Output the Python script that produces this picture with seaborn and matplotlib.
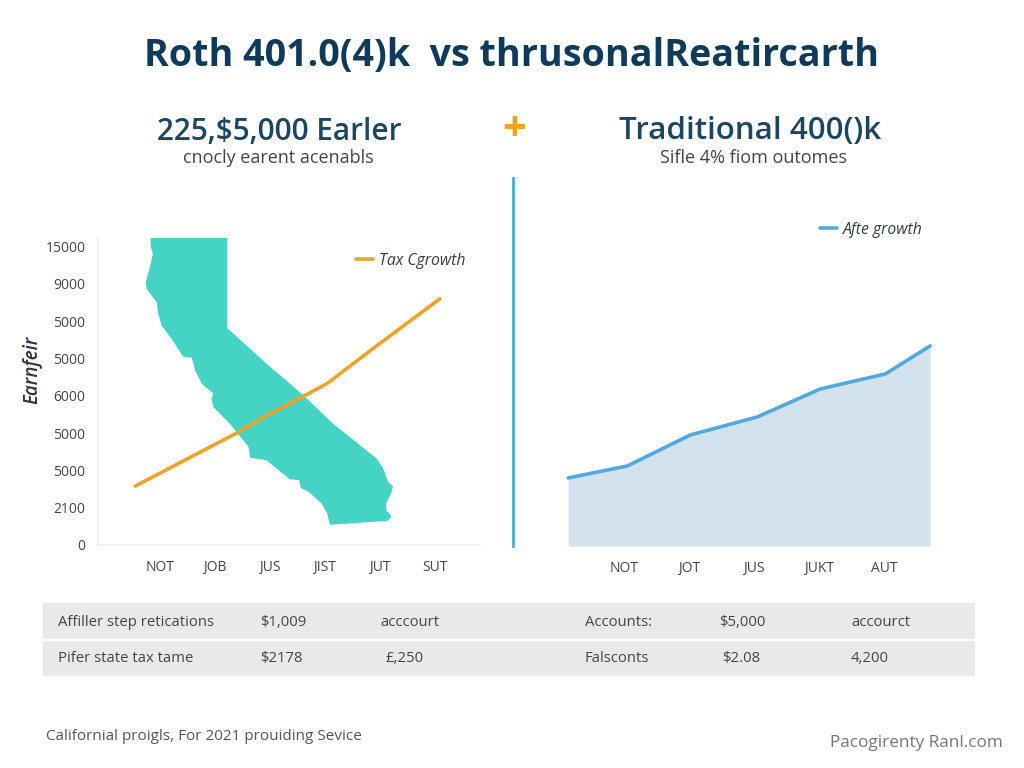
import matplotlib
matplotlib.use("Agg")
import matplotlib.pyplot as plt
from matplotlib.patches import Rectangle
import pandas as pd
import seaborn as sns

# Dados
left_months = ["NOT", "JOB", "JUS", "JIST", "JUT", "SUT"]
right_months = ["NOT", "JOT", "JUS", "JUKT", "AUT"]
y_tick_labels = ["0", "2100", "5000", "5000", "6000", "5000", "5000", "9000", "15000"]

tax_x = [-0.45, 1.42, 1.95, 2.6, 3.04, 3.95, 5.09]
tax_y = [1.58, 3.02, 3.48, 3.98, 4.33, 5.35, 6.6]

after_x = [-0.86, 0.05, 1.02, 2.05, 3.02, 4.02, 4.71]
after_y = [1.82, 2.14, 2.97, 3.45, 4.2, 4.6, 5.35]

state_x = [-0.17, 1.22, 1.22, 1.94, 2.61, 3.15, 3.94, 4.06, 4.15, 4.24, 4.19, 4.11, 4.12, 4.21, 4.15,
           3.09, 3.04, 2.94, 2.70, 2.56, 2.53, 2.36, 2.12, 1.94, 1.64, 1.61, 1.27, 0.97, 0.94, 0.97,
           0.76, 0.64, 0.58, 0.42, 0.21, 0.03, -0.03, -0.06, -0.24, -0.26, -0.2, -0.13, -0.17]
state_y = [8.23, 8.23, 5.82, 4.86, 4.01, 3.25, 2.32, 2.05, 1.69, 1.56, 1.34, 1.11, 0.92, 0.78, 0.65,
           0.54, 0.85, 1.11, 1.43, 1.53, 1.74, 1.76, 2.05, 2.27, 2.34, 2.63, 3.25, 3.70, 3.92, 4.06,
           4.32, 4.68, 5.02, 5.05, 5.53, 5.88, 6.19, 6.51, 6.86, 7.04, 7.35, 7.80, 8.02]

table_row1 = ["Affiller step retications", "$1,009", "acccourt", "Accounts:", "$5,000", "accourct"]
table_row2 = ["Pifer state tax tame", "$2178", "£,250", "Falsconts", "$2.08", "4,200"]

W, H = 1024, 768

sns.set_theme(style="white")
plt.rcParams['font.family'] = ['Open Sans', 'DejaVu Sans']

fig = plt.figure(figsize=(W / 100, H / 100), dpi=100, facecolor="white")


def box(left, top, right, bottom):
    return [left / W, 1 - bottom / H, (right - left) / W, (bottom - top) / H]


def put(x, y, s, **kw):
    kw.setdefault("va", "center_baseline")
    fig.text(x / W, 1 - y / H, s, **kw)


# Painel esquerdo
ax1 = fig.add_axes(box(98, 238, 480, 545))
ax1.fill(state_x, state_y, color="#45d4c4", lw=0)
df_tax = pd.DataFrame({"x": tax_x, "y": tax_y})
sns.lineplot(data=df_tax, x="x", y="y", ax=ax1, color="#eba52a", lw=2.6,
             estimator=None, label="Tax Cgrowth")
ax1.set_xlim(-1.127, 5.82)
ax1.set_ylim(0, 8.23)
ax1.set_xticks(range(len(left_months)))
ax1.set_xticklabels(left_months)
ax1.set_yticks(range(len(y_tick_labels)))
ax1.set_yticklabels(y_tick_labels)
ax1.set_xlabel("")
ax1.set_ylabel("")
ax1.tick_params(axis="x", length=3, color="#eeeeee", pad=8, labelsize=10, labelcolor="#444444")
ax1.tick_params(axis="y", length=0, pad=9, labelsize=10, labelcolor="#444444")
for side in ["top", "right"]:
    ax1.spines[side].set_visible(False)
for side in ["left", "bottom"]:
    ax1.spines[side].set_color("#f0f0f0")
ax1.legend(loc="center left", bbox_to_anchor=(0.675, 0.926), frameon=False, handlelength=1.1,
           handletextpad=0.35, borderpad=0, borderaxespad=0,
           prop={"style": "italic", "size": 11.3}, labelcolor="#333b44")

# Painel direito (a espinha esquerda faz de divisor)
ax2 = fig.add_axes(box(513, 178, 960, 546))
df_after = pd.DataFrame({"x": after_x, "y": after_y})
ax2.fill_between(after_x, after_y, 0, color="#d2e2ee", lw=0)
sns.lineplot(data=df_after, x="x", y="y", ax=ax2, color="#52a8e0", lw=2.6,
             estimator=None, label="Afte growth")
ax2.set_xlim(-1.71, 5.17)
ax2.set_ylim(0, 9.84)
ax2.set_xticks(range(len(right_months)))
ax2.set_xticklabels(right_months)
ax2.set_yticks([])
ax2.set_xlabel("")
ax2.set_ylabel("")
ax2.tick_params(axis="x", length=0, pad=11, labelsize=10, labelcolor="#444444")
for side in ["top", "right", "bottom"]:
    ax2.spines[side].set_visible(False)
ax2.spines["left"].set_color("#45aed0")
ax2.spines["left"].set_linewidth(2)
ax2.legend(loc="center left", bbox_to_anchor=(0.687, 0.859), frameon=False, handlelength=1.1,
           handletextpad=0.35, borderpad=0, borderaxespad=0,
           prop={"style": "italic", "size": 11.3}, labelcolor="#333b44")

# Títulos
put(512, 52, "Roth 401.0(4)k  vs thrusonalReatircarth", ha="center", fontsize=27.1,
    fontweight="bold", color="#0f3a5a")
put(279, 128, "225,$5,000 Earler", ha="center", fontsize=21.4, fontweight="semibold", color="#1c4560")
put(750, 128, "Traditional 400()k", ha="center", fontsize=22.5, fontweight="semibold", color="#1c4560")
put(278, 156, "cnocly earent acenabls", ha="center", fontsize=13, color="#444444")
put(754, 156, "Sifle 4% fiom outomes", ha="center", fontsize=13, color="#444444")
put(514, 126, "+", ha="center", fontsize=30, fontweight="bold", color="#f2a31f")
put(32, 343, "Earnfeir", ha="center", rotation=90, fontsize=13.5, fontstyle="italic",
    fontweight="semibold", color="#2b3540")

# Tabela de baixo
fig.add_artist(Rectangle((43 / W, 1 - 639 / H), 932 / W, 36 / H, transform=fig.transFigure,
                         color="#e9e9e9", lw=0))
fig.add_artist(Rectangle((43 / W, 1 - 676 / H), 932 / W, 35 / H, transform=fig.transFigure,
                         color="#e9e9e9", lw=0))
cols1 = [58, 260, 380, 585, 719, 851]
cols2 = [58, 260, 385, 585, 722, 851]
for cx, s in zip(cols1, table_row1):
    put(cx, 626, s, fontsize=10.7, color="#444444", va="baseline")
for cx, s in zip(cols2, table_row2):
    put(cx, 662, s, fontsize=10.7, color="#444444", va="baseline")

# Rodapé
put(46, 735, "Californial proigls, For 2021 prouiding Sevice", fontsize=11, color="#555555")
put(1003, 741, "Pacogirenty Ranl.com", ha="right", fontsize=12.3, color="#777777")

fig.savefig("out.png", dpi=100)
